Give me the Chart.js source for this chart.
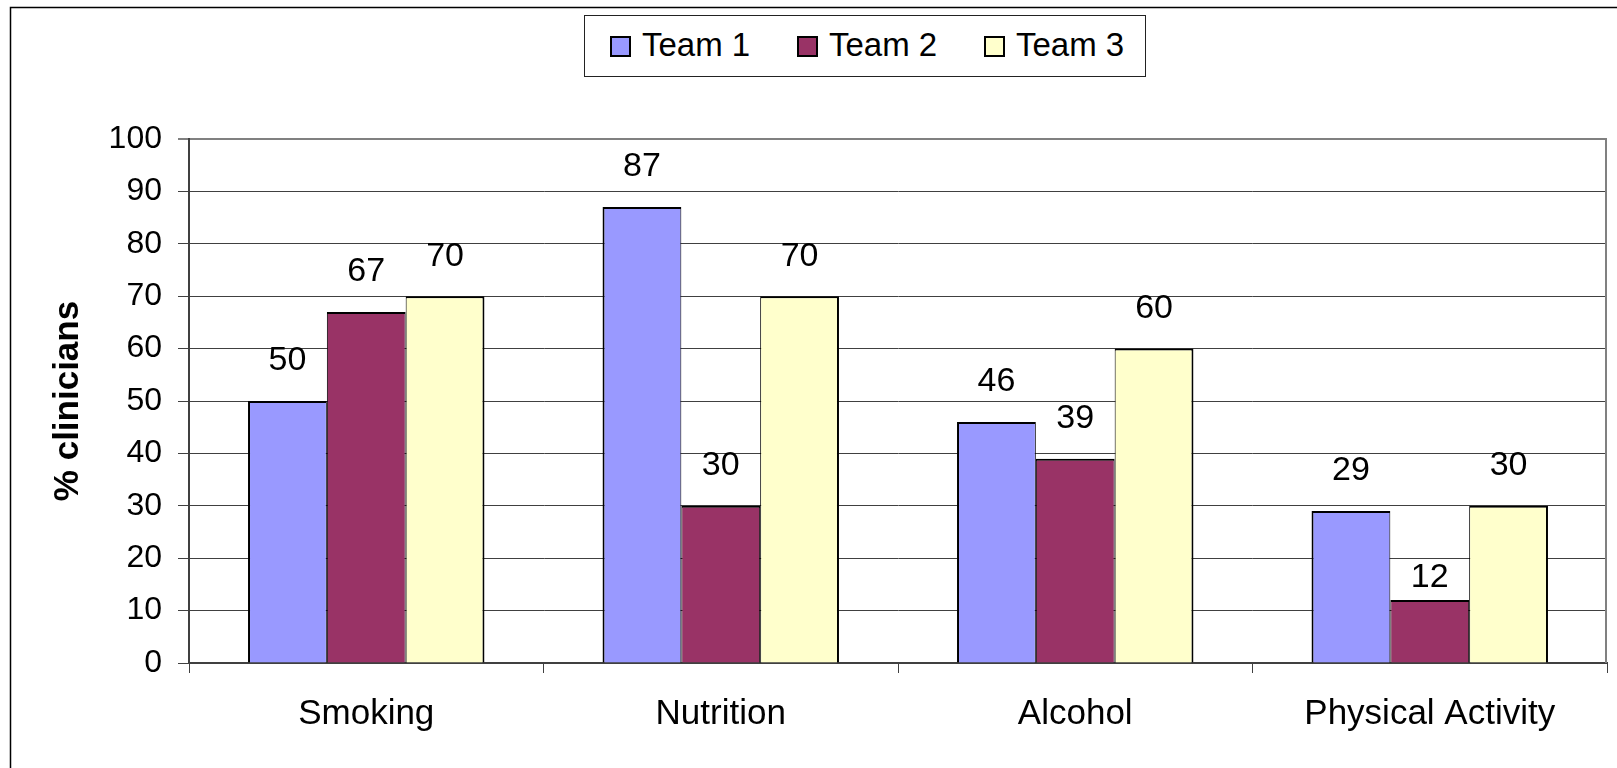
<!DOCTYPE html>
<html lang="en">
<head>
    <meta charset="UTF-8">
    <title>% clinicians by team</title>
    <script src="https://cdn.jsdelivr.net/npm/chart.js"></script>
    <style>
        body {
            margin: 0;
            background: #fff;
        }
        .wrap {
            position: relative;
            width: 1617px;
            height: 768px;
        }
        #legend {
            position: absolute;
            left: 584px;
            top: 15px;
            width: 560px;
            height: 60px;
            border: 1px solid #222;
            background: #fff;
            font-family: "Liberation Sans", Arial, sans-serif;
            font-size: 33px;
            color: #000;
        }
        #legend .box {
            position: absolute;
            top: 20px;
            width: 21px;
            height: 21px;
            box-sizing: border-box;
            border: 2px solid #000;
        }
        #legend .txt {
            position: absolute;
            top: 12px;
            line-height: 33px;
            white-space: nowrap;
        }
    </style>
</head>
<body>
    <div class="wrap">
        <canvas id="chart"></canvas>
        <div id="legend"></div>
    </div>

    <script>
        // data
        const categories = ["Smoking", "Nutrition", "Alcohol", "Physical Activity"];
        const seriesNames = ["Team 1", "Team 2", "Team 3"];
        const team1 = [50, 87, 46, 29];
        const team2 = [67, 30, 39, 12];
        const team3 = [70, 70, 60, 30];
        const yMin = 0;
        const yMax = 100;
        const yStep = 10;

        const colors = ["#9999FF", "#993366", "#FFFFCC"];
        const fontFamily = "'Liberation Sans', Arial, sans-serif";

        // legend in a framed box, like the original
        const legend = document.getElementById('legend');
        seriesNames.forEach(function(name, i) {
            const box = document.createElement('span');
            box.className = 'box';
            box.style.left = (25 + i * 187) + 'px';
            box.style.background = colors[i];
            const txt = document.createElement('span');
            txt.className = 'txt';
            txt.style.left = (57 + i * 187) + 'px';
            txt.textContent = name;
            legend.appendChild(box);
            legend.appendChild(txt);
        });

        // outer frame and the grey plot border on the right
        const framePlugin = {
            id: 'frame',
            beforeDraw(chart) {
                const ctx = chart.ctx;
                ctx.save();
                ctx.fillStyle = '#fff';
                ctx.fillRect(0, 0, chart.width, chart.height);
                ctx.strokeStyle = '#000';
                ctx.lineWidth = 1.5;
                ctx.strokeRect(10.5, 7.5, 3000, 3000);
                ctx.restore();
            },
            afterDraw(chart) {
                const a = chart.chartArea;
                const ctx = chart.ctx;
                ctx.save();
                ctx.strokeStyle = '#808080';
                ctx.lineWidth = 2;
                ctx.beginPath();
                ctx.moveTo(a.right - 1, a.top);
                ctx.lineTo(a.right - 1, a.bottom);
                ctx.stroke();
                ctx.restore();
            }
        };

        // value labels above each bar
        const barLabels = {
            id: 'barLabels',
            afterDatasetsDraw(chart, args, opts) {
                const ctx = chart.ctx;
                ctx.save();
                ctx.font = opts.size + 'px ' + fontFamily;
                ctx.fillStyle = '#000';
                ctx.textAlign = 'center';
                ctx.textBaseline = 'middle';
                chart.data.datasets.forEach(function(ds, i) {
                    chart.getDatasetMeta(i).data.forEach(function(bar, j) {
                        const lift = (opts.lift[i + ':' + j] !== undefined) ? opts.lift[i + ':' + j] : opts.offset;
                        ctx.fillText(ds.data[j], bar.x, bar.y - lift);
                    });
                });
                ctx.restore();
            }
        };

        const borders = [
            { left: 2, right: 1, top: 2, bottom: 0 },
            { left: 1, right: 1, top: 2, bottom: 0 },
            { left: 1, right: 2, top: 2, bottom: 0 }
        ];

        new Chart(document.getElementById('chart'), {
            type: 'bar',
            data: {
                labels: categories,
                datasets: [team1, team2, team3].map(function(values, i) {
                    return {
                        label: seriesNames[i],
                        data: values,
                        backgroundColor: colors[i],
                        borderColor: '#000',
                        borderWidth: borders[i],
                        borderSkipped: false,
                        categoryPercentage: 0.667,
                        barPercentage: 1.0
                    };
                })
            },
            options: {
                responsive: true,
                maintainAspectRatio: false,
                animation: false,
                layout: {
                    padding: { top: 139, right: 10, bottom: 0, left: 0 }
                },
                plugins: {
                    legend: { display: false },
                    tooltip: { enabled: false },
                    barLabels: {
                        size: 34,
                        offset: 40,
                        // the "12" label sits lower, tucked under the gridline
                        lift: { '1:3': 22 }
                    }
                },
                scales: {
                    x: {
                        grid: {
                            display: true,
                            drawOnChartArea: false,
                            drawTicks: true,
                            tickLength: 10,
                            color: '#404040'
                        },
                        border: { color: '#404040', width: 2 },
                        ticks: {
                            color: '#000',
                            padding: 20,
                            font: { family: fontFamily, size: 35 }
                        },
                        afterFit: function(scale) {
                            scale.height = 105;
                        }
                    },
                    y: {
                        min: yMin,
                        max: yMax,
                        ticks: {
                            stepSize: yStep,
                            color: '#000',
                            padding: 16,
                            font: { family: fontFamily, size: 32 }
                        },
                        grid: {
                            tickLength: 11,
                            color: function(c) {
                                return c.tick && c.tick.value === yMax ? '#808080' : '#404040';
                            },
                            lineWidth: function(c) {
                                return c.tick && c.tick.value === yMax ? 2 : 1;
                            }
                        },
                        border: { color: '#404040', width: 2 },
                        title: {
                            display: true,
                            text: '% clinicians',
                            color: '#000',
                            padding: { top: 47, bottom: 0 },
                            font: { family: fontFamily, size: 35, weight: 'bold' }
                        },
                        afterFit: function(scale) {
                            scale.width = 189;
                        }
                    }
                }
            },
            plugins: [framePlugin, barLabels]
        });
    </script>
</body>
</html>
